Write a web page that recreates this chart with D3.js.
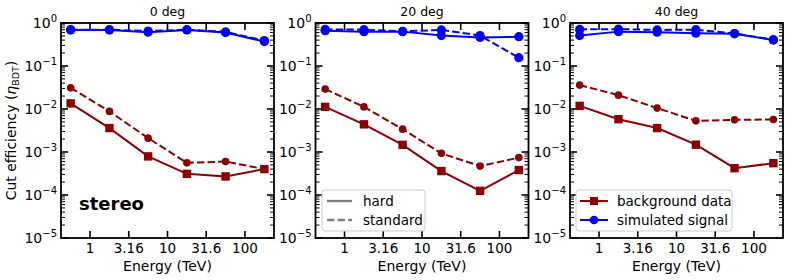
<!DOCTYPE html>
<html lang="en">
<head>
<meta charset="UTF-8">
<title>Cut efficiency</title>
<script src="https://d3js.org/d3.v7.min.js"></script>
<style>
  body { margin: 0; background: #fff; }
  text { font-family: "DejaVu Sans", sans-serif; fill: #000; }
</style>
</head>
<body>
<div id="plot"></div>
<script>
// energy bin centres (TeV) and tick labels
const energies = [0.562, 1.78, 5.62, 17.8, 56.2, 178];
const xTicks = [1, 3.16, 10, 31.6, 100];
const xTickLabels = ["1", "3.16", "10", "31.6", "100"];
const panelTitles = ["0 deg", "20 deg", "40 deg"];

// background data (hard / standard) per zenith
const bgHard0 = [0.0135, 0.0036, 0.00079, 0.00031, 0.00027, 0.0004];
const bgStd0 = [0.031, 0.0088, 0.0021, 0.00056, 0.0006, 0.0004];
const bgHard20 = [0.0112, 0.0044, 0.00147, 0.00036, 0.000125, 0.00038];
const bgStd20 = [0.029, 0.0112, 0.0034, 0.00093, 0.00047, 0.00074];
const bgHard40 = [0.0118, 0.0058, 0.0036, 0.00148, 0.00042, 0.00055];
const bgStd40 = [0.036, 0.021, 0.0105, 0.0053, 0.0056, 0.0057];

// simulated signal (hard / standard)
const sigHard0 = [0.69, 0.69, 0.61, 0.69, 0.6, 0.37];
const sigStd0 = [0.7, 0.7, 0.65, 0.7, 0.62, 0.39];
const sigHard20 = [0.66, 0.63, 0.63, 0.51, 0.46, 0.48];
const sigStd20 = [0.71, 0.7, 0.64, 0.69, 0.51, 0.156];
const sigHard40 = [0.51, 0.63, 0.61, 0.58, 0.56, 0.4];
const sigStd40 = [0.71, 0.72, 0.69, 0.7, 0.57, 0.41];

const panels = [
  { bgHard: bgHard0, bgStd: bgStd0, sigHard: sigHard0, sigStd: sigStd0 },
  { bgHard: bgHard20, bgStd: bgStd20, sigHard: sigHard20, sigStd: sigStd20 },
  { bgHard: bgHard40, bgStd: bgStd40, sigHard: sigHard40, sigStd: sigStd40 }
];

const width = 789, height = 280;
const panelLeft = [61, 315.5, 570];
const panelW = 213;
const plotTop = 23, plotBottom = 238;
const red = "#8b0000", blue = "#0000ff";

const svg = d3.select("#plot").append("svg")
  .attr("width", width).attr("height", height);

const y = d3.scaleLog().domain([1e-5, 1]).range([plotBottom, plotTop]);

const yTicks = [1e-5, 1e-4, 1e-3, 1e-2, 1e-1, 1];
const yMinor = [];
for (let e = -5; e < 0; e++) for (let m = 2; m <= 9; m++) yMinor.push(m * Math.pow(10, e));

panels.forEach((p, i) => {
  const x0 = panelLeft[i];
  const x = d3.scaleLog()
    .domain([Math.pow(10, -0.375), Math.pow(10, 2.375)])
    .range([x0, x0 + panelW]);
  const g = svg.append("g");

  // title
  g.append("text").attr("x", x0 + panelW / 2).attr("y", 16)
    .attr("text-anchor", "middle").attr("font-size", 12.5).text(panelTitles[i]);

  // ticks (inward, all sides)
  const tk = g.append("g").attr("stroke", "#000");
  xTicks.forEach(t => {
    tk.append("line").attr("x1", x(t)).attr("x2", x(t)).attr("y1", plotBottom).attr("y2", plotBottom - 7).attr("stroke-width", 1.6);
    tk.append("line").attr("x1", x(t)).attr("x2", x(t)).attr("y1", plotTop).attr("y2", plotTop + 7).attr("stroke-width", 1.6);
  });
  yTicks.forEach(t => {
    tk.append("line").attr("x1", x0).attr("x2", x0 + 7).attr("y1", y(t)).attr("y2", y(t)).attr("stroke-width", 1.6);
    tk.append("line").attr("x1", x0 + panelW).attr("x2", x0 + panelW - 7).attr("y1", y(t)).attr("y2", y(t)).attr("stroke-width", 1.6);
  });
  yMinor.forEach(t => {
    tk.append("line").attr("x1", x0).attr("x2", x0 + 4).attr("y1", y(t)).attr("y2", y(t)).attr("stroke-width", 1);
    tk.append("line").attr("x1", x0 + panelW).attr("x2", x0 + panelW - 4).attr("y1", y(t)).attr("y2", y(t)).attr("stroke-width", 1);
  });

  // tick labels
  xTicks.forEach((t, k) => {
    g.append("text").attr("x", x(t)).attr("y", 253).attr("text-anchor", "middle")
      .attr("font-size", 13.5).text(xTickLabels[k]);
  });
  yTicks.forEach(t => {
    const e = Math.round(Math.log10(t));
    const lbl = g.append("text").attr("x", x0 - 4).attr("y", y(t) + 5).attr("text-anchor", "end").attr("font-size", 14);
    lbl.append("tspan").text("10");
    lbl.append("tspan").attr("font-size", 10).attr("dy", -6).text(e === 0 ? "0" : "\u2212" + (-e));
  });

  g.append("text").attr("x", x0 + panelW / 2).attr("y", 271).attr("text-anchor", "middle")
    .attr("font-size", 14).text("Energy (TeV)");

  // series
  const line = d3.line().x((d, k) => x(energies[k])).y(d => y(d));
  const series = [
    { data: p.sigStd, color: blue, dash: "7.4,3.2", marker: "circle" },
    { data: p.sigHard, color: blue, dash: null, marker: "circle" },
    { data: p.bgStd, color: red, dash: "7.4,3.2", marker: "circle" },
    { data: p.bgHard, color: red, dash: null, marker: "square" }
  ];
  series.forEach(s => {
    g.append("path").datum(s.data).attr("fill", "none").attr("stroke", s.color)
      .attr("stroke-width", 2).attr("stroke-dasharray", s.dash).attr("d", line);
    if (s.marker === "circle") {
      g.selectAll(null).data(s.data).enter().append("circle")
        .attr("cx", (d, k) => x(energies[k])).attr("cy", d => y(d))
        .attr("r", s.color === blue ? 4.6 : 3.8).attr("fill", s.color);
    } else {
      g.selectAll(null).data(s.data).enter().append("rect")
        .attr("x", (d, k) => x(energies[k]) - 4.2).attr("y", d => y(d) - 4.2)
        .attr("width", 8.4).attr("height", 8.4).attr("fill", s.color);
    }
  });

  // frame
  g.append("rect").attr("x", x0).attr("y", plotTop).attr("width", panelW).attr("height", plotBottom - plotTop)
    .attr("fill", "none").attr("stroke", "#000").attr("stroke-width", 1.8);
});

// y label
svg.append("text").attr("transform", "translate(16," + ((plotTop + plotBottom) / 2) + ") rotate(-90)")
  .attr("text-anchor", "middle").attr("font-size", 14)
  .call(t => {
    t.append("tspan").text("Cut efficiency (");
    t.append("tspan").attr("font-style", "italic").text("\u03b7");
    t.append("tspan").attr("font-size", 9.5).attr("dy", 3).text("BDT");
    t.append("tspan").attr("dy", -3).text(")");
  });

// stereo tag
svg.append("text").attr("x", 79).attr("y", 210).attr("font-size", 18).attr("font-weight", "bold").text("stereo");

// legend 1: line styles
const lg1 = svg.append("g");
lg1.append("rect").attr("x", 322).attr("y", 190).attr("width", 103).attr("height", 41).attr("rx", 3)
  .attr("fill", "#fff").attr("fill-opacity", 0.8).attr("stroke", "#ccc");
[["hard", null], ["standard", "7.4,3.2"]].forEach((d, k) => {
  const yy = 201 + k * 19;
  lg1.append("line").attr("x1", 327).attr("x2", 352).attr("y1", yy).attr("y2", yy)
    .attr("stroke", "#808080").attr("stroke-width", 2.4).attr("stroke-dasharray", d[1]);
  lg1.append("text").attr("x", 363).attr("y", yy + 5).attr("font-size", 13.5).text(d[0]);
});

// legend 2: samples
const lg2 = svg.append("g");
lg2.append("rect").attr("x", 576).attr("y", 190).attr("width", 156).attr("height", 41).attr("rx", 3)
  .attr("fill", "#fff").attr("fill-opacity", 0.8).attr("stroke", "#ccc");
[["background data", red, "square"], ["simulated signal", blue, "circle"]].forEach((d, k) => {
  const yy = 201 + k * 19;
  lg2.append("line").attr("x1", 580).attr("x2", 608).attr("y1", yy).attr("y2", yy)
    .attr("stroke", d[1]).attr("stroke-width", 2);
  if (d[2] === "square") {
    lg2.append("rect").attr("x", 590).attr("y", yy - 4).attr("width", 8).attr("height", 8).attr("fill", d[1]);
  } else {
    lg2.append("circle").attr("cx", 594).attr("cy", yy).attr("r", 4.3).attr("fill", d[1]);
  }
  lg2.append("text").attr("x", 617).attr("y", yy + 5).attr("font-size", 13.5).text(d[0]);
});
</script>
</body>
</html>
